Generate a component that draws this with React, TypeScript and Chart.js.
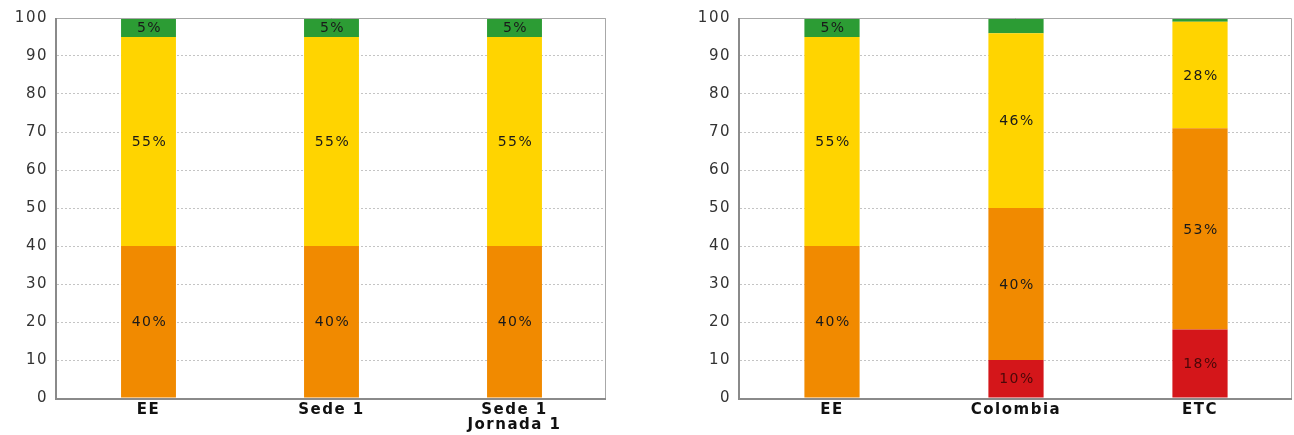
import React, { useEffect, useRef } from "react";
import { Chart, registerables } from "chart.js";
Chart.register(...registerables);

const leftCategories: (string | string[])[] = ["EE", "Sede 1", ["Sede 1", "Jornada 1"]];
const leftRed = [0, 0, 0];
const leftOrange = [40, 40, 40];
const leftYellow = [55, 55, 55];
const leftGreen = [5, 5, 5];

const rightCategories: string[] = ["EE", "Colombia", "ETC"];
const rightRed = [0, 10, 18];
const rightOrange = [40, 40, 53];
const rightYellow = [55, 46, 28];
const rightGreen = [5, 4, 1];

const yTicks = [0, 10, 20, 30, 40, 50, 60, 70, 80, 90, 100];

const COLORS = {
  red: "#d4161a",
  orange: "#f18a00",
  yellow: "#ffd400",
  green: "#2c9c34",
};

const FONT = "'DejaVu Sans', Verdana, sans-serif";

const spacingPlugin = {
  id: "spacing",
  beforeDraw(chart: any) {
    try {
      chart.ctx.letterSpacing = "1.5px";
    } catch (e) {}
  },
};

const labelPlugin = {
  id: "barLabels",
  afterDatasetsDraw(chart: any) {
    const ctx = chart.ctx;
    ctx.save();
    ctx.font = `14px ${FONT}`;
    ctx.textAlign = "center";
    ctx.textBaseline = "middle";
    chart.data.datasets.forEach((ds: any, di: number) => {
      const meta = chart.getDatasetMeta(di);
      meta.data.forEach((bar: any, i: number) => {
        const v = ds.data[i];
        if (v >= 5) {
          const { x, y, base } = bar.getProps(["x", "y", "base"], true);
          ctx.fillStyle = di === 0 ? "#4a0808" : "#1a1a1a";
          ctx.fillText(`${v}%`, x + 1, (y + base) / 2 + 1);
        }
      });
    });
    ctx.restore();
  },
};

const framePlugin = {
  id: "frame",
  afterDraw(chart: any) {
    const { ctx, chartArea: a } = chart;
    ctx.save();
    ctx.strokeStyle = "#a8a8a8";
    ctx.lineWidth = 1;
    ctx.beginPath();
    ctx.moveTo(a.left, a.top + 0.5);
    ctx.lineTo(a.right - 0.5, a.top + 0.5);
    ctx.lineTo(a.right - 0.5, a.bottom);
    ctx.stroke();
    ctx.strokeStyle = "#8a8a8a";
    ctx.lineWidth = 2;
    ctx.beginPath();
    ctx.moveTo(a.left - 1, a.top);
    ctx.lineTo(a.left - 1, a.bottom + 1);
    ctx.lineTo(a.right, a.bottom + 1);
    ctx.stroke();
    ctx.restore();
  },
};

function StackChart(props: {
  categories: (string | string[])[];
  red: number[];
  orange: number[];
  yellow: number[];
  green: number[];
  width: number;
  yWidth: number;
  padRight: number;
}) {
  const ref = useRef<HTMLCanvasElement>(null);
  useEffect(() => {
    if (!ref.current) return;
    const mk = (data: number[], color: string) => ({
      data,
      backgroundColor: color,
      borderWidth: 0,
      barPercentage: 0.3,
      categoryPercentage: 1,
    });
    const chart = new Chart(ref.current, {
      type: "bar",
      data: {
        labels: props.categories as any,
        datasets: [
          mk(props.red, COLORS.red),
          mk(props.orange, COLORS.orange),
          mk(props.yellow, COLORS.yellow),
          mk(props.green, COLORS.green),
        ],
      },
      options: {
        animation: false,
        responsive: false,
        layout: { padding: { top: 18, right: props.padRight, bottom: 0, left: 0 } },
        plugins: { legend: { display: false }, tooltip: { enabled: false } },
        scales: {
          x: {
            stacked: true,
            grid: { display: false, drawTicks: false },
            border: { display: false },
            ticks: {
              padding: 5,
              color: "#111",
              font: { family: FONT, size: 15, weight: "bold", lineHeight: 1.0 },
              maxRotation: 0,
              autoSkip: false,
            },
            afterFit: (s: any) => {
              s.height = 37;
            },
          },
          y: {
            stacked: true,
            min: 0,
            max: 100,
            afterBuildTicks: (s: any) => {
              s.ticks = yTicks.map((v) => ({ value: v }));
            },
            grid: {
              color: "#c4c4c4",
              drawTicks: false,
              lineWidth: 1,
            },
            border: { display: false, dash: [2, 2] },
            ticks: {
              padding: 9,
              color: "#333",
              font: { family: FONT, size: 15 },
            },
            afterFit: (s: any) => {
              s.width = props.yWidth;
            },
          },
        },
      },
      plugins: [spacingPlugin, labelPlugin, framePlugin],
    } as any);
    return () => chart.destroy();
  }, []);
  return <canvas ref={ref} width={props.width} height={435} style={{ display: "block" }} />;
}

export default function App() {
  return (
    <div style={{ position: "absolute", left: 0, top: 0, width: 1294, height: 435, background: "#fff" }}>
      <div style={{ position: "absolute", left: 0, top: 0 }}>
        <StackChart
          categories={leftCategories}
          red={leftRed}
          orange={leftOrange}
          yellow={leftYellow}
          green={leftGreen}
          width={620}
          yWidth={57}
          padRight={14}
        />
      </div>
      <div style={{ position: "absolute", left: 640, top: 0 }}>
        <StackChart
          categories={rightCategories}
          red={rightRed}
          orange={rightOrange}
          yellow={rightYellow}
          green={rightGreen}
          width={654}
          yWidth={100}
          padRight={2}
        />
      </div>
    </div>
  );
}
